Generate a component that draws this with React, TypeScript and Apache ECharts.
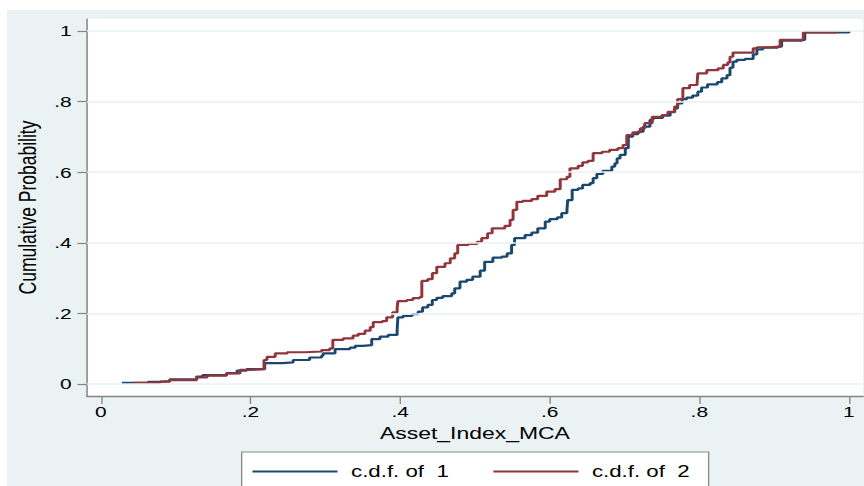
import React, { useEffect, useRef } from "react";
import * as echarts from "echarts";

// Reference image is a horizontally stretched Stata graph: render narrower, then stretch.
const S = 1.35;
const W = 640;
const H = 486;
const FONT = "'Liberation Sans', Arial, sans-serif";

const xTicks = [0, 0.2, 0.4, 0.6, 0.8, 1];
const yTicks = [0, 0.2, 0.4, 0.6, 0.8, 1];

const seriesNames = ["c.d.f. of  1", "c.d.f. of  2"];

const blueX = [0.028, 0.063, 0.079, 0.092, 0.128, 0.136, 0.168, 0.182, 0.195, 0.219, 0.243, 0.257, 0.279, 0.295, 0.297, 0.313, 0.333, 0.340, 0.350, 0.362, 0.373, 0.384, 0.396, 0.397, 0.404, 0.416, 0.424, 0.430, 0.437, 0.443, 0.449, 0.457, 0.469, 0.473, 0.480, 0.489, 0.497, 0.507, 0.513, 0.524, 0.536, 0.543, 0.549, 0.553, 0.567, 0.576, 0.584, 0.594, 0.600, 0.610, 0.616, 0.623, 0.624, 0.630, 0.638, 0.644, 0.654, 0.658, 0.663, 0.671, 0.683, 0.687, 0.690, 0.694, 0.701, 0.705, 0.711, 0.718, 0.725, 0.734, 0.738, 0.751, 0.761, 0.767, 0.771, 0.777, 0.783, 0.791, 0.798, 0.803, 0.811, 0.824, 0.830, 0.837, 0.841, 0.845, 0.850, 0.861, 0.872, 0.877, 0.885, 0.905, 0.910, 0.937, 0.941, 1.0];
const blueY = [0.003, 0.006, 0.008, 0.013, 0.021, 0.025, 0.031, 0.038, 0.042, 0.059, 0.061, 0.068, 0.075, 0.080, 0.087, 0.099, 0.103, 0.108, 0.110, 0.127, 0.134, 0.139, 0.153, 0.189, 0.193, 0.198, 0.205, 0.217, 0.224, 0.238, 0.244, 0.249, 0.257, 0.271, 0.290, 0.295, 0.304, 0.321, 0.346, 0.358, 0.361, 0.370, 0.394, 0.413, 0.422, 0.429, 0.441, 0.460, 0.467, 0.472, 0.484, 0.493, 0.521, 0.550, 0.554, 0.564, 0.569, 0.583, 0.595, 0.604, 0.616, 0.625, 0.639, 0.649, 0.668, 0.701, 0.708, 0.715, 0.729, 0.748, 0.754, 0.760, 0.770, 0.781, 0.795, 0.807, 0.811, 0.817, 0.828, 0.840, 0.849, 0.855, 0.866, 0.875, 0.896, 0.913, 0.918, 0.921, 0.934, 0.948, 0.953, 0.956, 0.973, 0.975, 0.996, 1.0];

const redX = [0.044, 0.079, 0.092, 0.128, 0.142, 0.168, 0.186, 0.199, 0.217, 0.218, 0.222, 0.233, 0.249, 0.273, 0.295, 0.306, 0.310, 0.324, 0.337, 0.344, 0.353, 0.360, 0.364, 0.376, 0.382, 0.390, 0.396, 0.397, 0.409, 0.417, 0.426, 0.429, 0.437, 0.443, 0.449, 0.460, 0.467, 0.473, 0.477, 0.491, 0.503, 0.509, 0.517, 0.523, 0.540, 0.547, 0.551, 0.556, 0.564, 0.576, 0.584, 0.596, 0.607, 0.614, 0.623, 0.627, 0.638, 0.644, 0.651, 0.658, 0.670, 0.680, 0.691, 0.698, 0.703, 0.711, 0.721, 0.727, 0.737, 0.750, 0.758, 0.767, 0.771, 0.778, 0.787, 0.797, 0.798, 0.810, 0.825, 0.832, 0.838, 0.841, 0.845, 0.872, 0.877, 0.894, 0.908, 0.937, 0.939, 0.984];
const redY = [0.003, 0.007, 0.011, 0.019, 0.024, 0.030, 0.040, 0.042, 0.044, 0.068, 0.077, 0.087, 0.090, 0.092, 0.096, 0.101, 0.125, 0.129, 0.137, 0.142, 0.151, 0.161, 0.175, 0.178, 0.189, 0.203, 0.214, 0.235, 0.238, 0.243, 0.246, 0.292, 0.297, 0.314, 0.332, 0.342, 0.356, 0.370, 0.394, 0.397, 0.403, 0.413, 0.427, 0.441, 0.448, 0.465, 0.493, 0.516, 0.519, 0.524, 0.533, 0.545, 0.552, 0.580, 0.587, 0.611, 0.618, 0.628, 0.632, 0.654, 0.658, 0.663, 0.668, 0.677, 0.705, 0.713, 0.724, 0.739, 0.757, 0.762, 0.771, 0.786, 0.807, 0.838, 0.847, 0.852, 0.880, 0.889, 0.894, 0.904, 0.911, 0.927, 0.939, 0.951, 0.954, 0.956, 0.975, 0.977, 0.996, 1.0];

const BLUE = "#1a476f";
const RED = "#90353b";
const BG = "#eaf2f3";
const AXIS_GRAY = "#858585";

const fmt = (v: number) => (v === 0 ? "0" : v === 1 ? "1" : String(v).replace(/^0/, ""));
const zip = (xs: number[], ys: number[]) => xs.map((x, i) => [x, ys[i]]);

export default function App() {
  const ref = useRef<HTMLDivElement>(null);
  useEffect(() => {
    document.body.style.margin = "0";
    const chart = echarts.init(ref.current!, null, { renderer: "svg" });
    chart.setOption({
      animation: false,
      backgroundColor: BG,
      graphic: [
        { type: "rect", left: 0, top: 0, shape: { width: 5.2, height: H }, style: { fill: "#fff" }, silent: true },
        { type: "rect", left: 0, top: 0, shape: { width: W, height: 10 }, style: { fill: "#fff" }, silent: true },
      ],
      grid: {
        left: 64.4,
        right: 0.8,
        top: 19,
        bottom: 90,
        show: true,
        backgroundColor: "#fff",
        borderWidth: 0,
      },
      legend: {
        data: seriesNames,
        left: 179,
        top: 452,
        orient: "horizontal",
        itemWidth: 63,
        itemHeight: 14,
        itemGap: 32,
        padding: [11, 14, 20, 7],
        backgroundColor: "#fff",
        borderColor: "#8a8a8a",
        borderWidth: 1,
        borderRadius: 0,
        itemStyle: { opacity: 0 },
        lineStyle: { width: 2 },
        textStyle: { fontFamily: FONT, fontSize: 16.5, color: "#000", padding: [0, 0, 0, 5] },
      },
      xAxis: {
        type: "value",
        min: -0.0187,
        max: 1.0187,
        name: "Asset_Index_MCA",
        nameLocation: "middle",
        nameGap: 26,
        nameTextStyle: { fontFamily: FONT, fontSize: 17, color: "#000" },
        axisLine: { show: true, onZero: false, lineStyle: { color: AXIS_GRAY, width: 1.4 } },
        axisTick: { show: true, length: 8, customValues: xTicks, lineStyle: { color: AXIS_GRAY, width: 1 } },
        axisLabel: { customValues: xTicks, formatter: fmt, margin: 8, fontFamily: FONT, fontSize: 15.5, color: "#000" },
        splitLine: { show: false },
      },
      yAxis: {
        type: "value",
        min: -0.034,
        max: 1.034,
        name: "Cumulative Probability",
        nameLocation: "middle",
        nameRotate: 90,
        nameGap: 35,
        nameTextStyle: { fontFamily: FONT, fontSize: 17.5, color: "#000" },
        axisLine: { show: true, onZero: false, lineStyle: { color: AXIS_GRAY, width: 1.1 } },
        axisTick: { show: true, length: 7, customValues: yTicks, lineStyle: { color: AXIS_GRAY, width: 1.2 } },
        axisLabel: { customValues: yTicks, formatter: fmt, margin: 11.3, fontFamily: FONT, fontSize: 15.5, color: "#000" },
        splitLine: { show: false },
      },
      series: [
        {
          type: "line",
          name: "gridlines",
          data: [],
          z: 1,
          silent: true,
          markLine: {
            silent: true,
            symbol: "none",
            label: { show: false },
            lineStyle: { color: BG, width: 1.6, type: "solid" },
            data: yTicks.map((v) => ({ yAxis: v })),
          },
        },
        {
          type: "line",
          name: seriesNames[0],
          data: zip(blueX, blueY),
          step: "end",
          symbol: "none",
          z: 3,
          lineStyle: { color: BLUE, width: 2.2 },
          itemStyle: { color: BLUE },
        },
        {
          type: "line",
          name: seriesNames[1],
          data: zip(redX, redY),
          step: "end",
          symbol: "none",
          z: 4,
          lineStyle: { color: RED, width: 2.2 },
          itemStyle: { color: RED },
        },
      ],
    });
    return () => chart.dispose();
  }, []);
  return (
    <div
      ref={ref}
      style={{ width: W, height: H, transform: `scaleX(${S})`, transformOrigin: "0 0" }}
    />
  );
}
